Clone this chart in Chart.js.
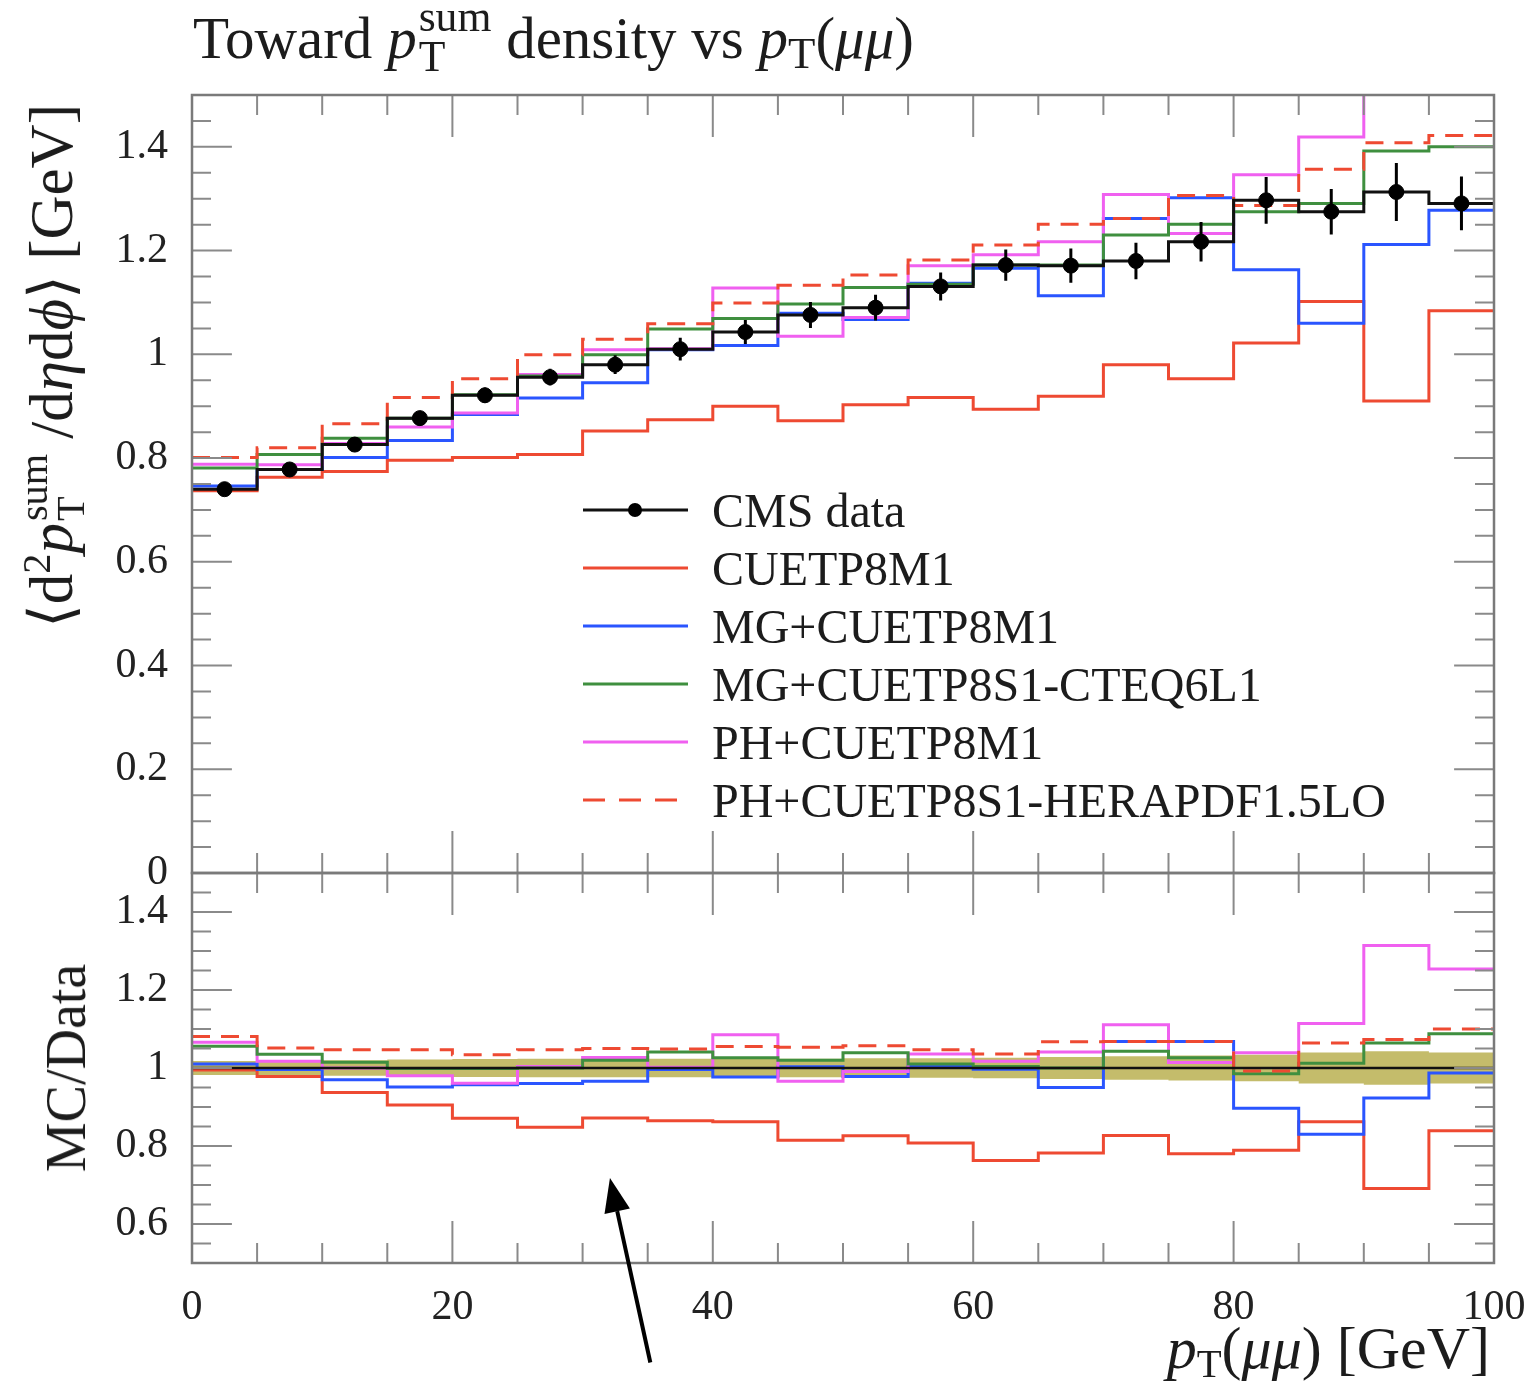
<!DOCTYPE html>
<html>
<head>
<meta charset="utf-8">
<script src="https://cdn.jsdelivr.net/npm/chart.js@4.4.1/dist/chart.umd.min.js"></script>
<style>
  body { margin: 0; background: #fff; }
  #wrap { position: relative; width: 1531px; height: 1382px; overflow: hidden;
          font-family: "Liberation Serif", "DejaVu Serif", serif; color: #1c1c1c; }
  #topChart { position: absolute; left: 0; top: 0; }
  #ratioChart { position: absolute; left: 0; top: 821px; }
  .title { position: absolute; left: 193px; top: -4px; font-size: 59px; line-height: 1; white-space: nowrap; }
  .title .ss { font-size: 0.74em; }
  .title .sub { font-size: 0.76em; }
  .ytitle { position: absolute; white-space: nowrap; line-height: 1;
            transform: translate(-50%, -50%) rotate(-90deg); }
  .xtitle { position: absolute; right: 41px; top: 1318px; font-size: 60px; line-height: 1; white-space: nowrap; }
  .ss { display: inline-block; vertical-align: -0.3em; font-size: 0.66em; line-height: 0.92; margin-left: 2px; }
  .ss span { display: block; }
  sup.sq { font-size: 0.66em; line-height: 0; vertical-align: 0.55em; }
  .sub { font-size: 0.68em; vertical-align: -0.22em; line-height: 0; }
  #legend { position: absolute; left: 583px; top: 481px; font-size: 48px; }
  #legend .row { display: flex; align-items: center; height: 58px; white-space: nowrap; }
  #legend svg { margin-right: 24px; }
</style>
</head>
<body>
<div id="wrap">
  <canvas id="topChart" width="1531" height="925"></canvas>
  <canvas id="ratioChart" width="1571" height="561"></canvas>

  <div class="title">Toward <i>p</i><span class="ss"><span>sum</span><span>T</span></span> density vs <i>p</i><span class="sub">T</span>(<i>μμ</i>)</div>
  <div class="ytitle" style="left:52px; top:366px; font-size:61px;">⟨d<sup class="sq">2</sup><i>p</i><span class="ss"><span>sum</span><span>T</span></span> /d<i>η</i>d<i>ϕ</i>⟩ [GeV]</div>
  <div class="ytitle" style="left:66px; top:1068px; font-size:56px;">MC/Data</div>
  <div class="xtitle"><i>p</i><span class="sub">T</span>(<i>μμ</i>) [GeV]</div>
  <div id="legend"></div>
</div>

<script>
// bins in pT(mumu) [GeV]
const binEdges = [0, 5, 10, 15, 20, 25, 30, 35, 40, 45, 50, 55, 60, 65, 70, 75, 80, 85, 90, 95, 100];

const xTickLabels = [0, 20, 40, 60, 80, 100];
const topTickLabels = [0, 0.2, 0.4, 0.6, 0.8, 1, 1.2, 1.4];
const ratioTickLabels = [0.6, 0.8, 1, 1.2, 1.4];

// top panel: <d2 pT sum / deta dphi> [GeV]
const cmsData = [0.740, 0.778, 0.826, 0.877, 0.921, 0.956, 0.980, 1.010, 1.043, 1.076,
                 1.090, 1.131, 1.172, 1.171, 1.180, 1.217, 1.297, 1.275, 1.313, 1.291];
const cmsErr = [0.012, 0.012, 0.013, 0.014, 0.015, 0.016, 0.018, 0.022, 0.023, 0.025,
                0.025, 0.027, 0.030, 0.033, 0.035, 0.038, 0.045, 0.044, 0.056, 0.052];
const cuetp8m1 = [0.737, 0.763, 0.774, 0.796, 0.801, 0.807, 0.852, 0.874, 0.900, 0.872,
                  0.903, 0.917, 0.894, 0.919, 0.980, 0.953, 1.022, 1.102, 0.910, 1.084];
const mgCuetp8m1 = [0.746, 0.778, 0.801, 0.834, 0.884, 0.916, 0.945, 1.009, 1.017, 1.079,
                    1.067, 1.137, 1.166, 1.113, 1.262, 1.302, 1.163, 1.060, 1.212, 1.278];
const mgCuetp8s1 = [0.781, 0.807, 0.838, 0.877, 0.922, 0.958, 0.999, 1.049, 1.069, 1.097,
                    1.129, 1.135, 1.172, 1.172, 1.230, 1.251, 1.275, 1.291, 1.392, 1.400];
const phCuetp8m1 = [0.788, 0.787, 0.828, 0.860, 0.887, 0.961, 1.009, 1.011, 1.128, 1.035,
                    1.071, 1.171, 1.192, 1.217, 1.308, 1.233, 1.346, 1.419, 1.720, 1.620];
const phHerapdf = [0.801, 0.820, 0.866, 0.917, 0.953, 0.999, 1.029, 1.059, 1.099, 1.133,
                   1.153, 1.182, 1.211, 1.251, 1.262, 1.306, 1.287, 1.357, 1.408, 1.422];

// bottom panel: MC/Data
const ratioCuetp8m1 = [0.995, 0.978, 0.937, 0.905, 0.871, 0.848, 0.872, 0.865, 0.862, 0.815,
                       0.826, 0.808, 0.763, 0.782, 0.827, 0.780, 0.789, 0.862, 0.691, 0.839];
const ratioMgCuetp8m1 = [1.010, 0.996, 0.970, 0.951, 0.957, 0.960, 0.966, 0.996, 0.977, 1.003,
                         0.978, 1.004, 0.997, 0.950, 1.068, 1.068, 0.897, 0.830, 0.923, 0.987];
const ratioMgCuetp8s1 = [1.056, 1.035, 1.015, 0.999, 0.999, 1.000, 1.020, 1.041, 1.026, 1.020,
                         1.039, 1.010, 1.004, 1.000, 1.043, 1.026, 0.985, 1.012, 1.064, 1.088];
const ratioPhCuetp8m1 = [1.066, 1.017, 1.000, 0.980, 0.961, 1.004, 1.027, 1.002, 1.085, 0.966,
                         0.991, 1.036, 1.017, 1.041, 1.111, 1.014, 1.039, 1.114, 1.314, 1.254];
const ratioPhHerapdf = [1.081, 1.051, 1.047, 1.047, 1.034, 1.047, 1.050, 1.049, 1.055, 1.053,
                        1.057, 1.047, 1.036, 1.067, 1.068, 1.068, 0.992, 1.064, 1.073, 1.100];
const ratioBandHalf = [0.018, 0.018, 0.020, 0.022, 0.023, 0.024, 0.024, 0.024, 0.024, 0.024,
                       0.025, 0.025, 0.026, 0.028, 0.030, 0.032, 0.034, 0.040, 0.043, 0.040];
const ratioReference = 1;

const seriesLabels = ['CMS data', 'CUETP8M1', 'MG+CUETP8M1', 'MG+CUETP8S1-CTEQ6L1',
                      'PH+CUETP8M1', 'PH+CUETP8S1-HERAPDF1.5LO'];
const seriesColors = ['#111111', '#ee4a32', '#2a55ff', '#3f8f3f', '#f060f0', '#ee4a32'];

// annotation arrow (data units of the ratio panel)
const arrowTail = { x: 35.2, y: 0.245 };
const arrowTip = { x: 32.1, y: 0.718 };

const fontFamily = '"Liberation Serif", "DejaVu Serif", serif';
const binCenters = binEdges.slice(0, -1).map((e, i) => (e + binEdges[i + 1]) / 2);

function stepPoints(values) {
  const pts = values.map((v, i) => ({ x: binEdges[i], y: v }));
  pts.push({ x: binEdges[binEdges.length - 1], y: values[values.length - 1] });
  return pts;
}

function histo(label, values, color, dash, order) {
  return {
    type: 'line', label: label, data: stepPoints(values),
    borderColor: color, borderWidth: 3, borderDash: dash || [],
    stepped: 'before', pointRadius: 0, fill: false, order: order
  };
}

function fmt(v) { return String(Math.round(v * 10) / 10); }

// ticks inside the frame on all four sides + frame
const frameTicks = {
  id: 'frameTicks',
  afterDatasetsDraw(chart, args, o) {
    const ctx = chart.ctx, a = chart.chartArea;
    const xs = chart.scales.x, ys = chart.scales.y;
    const walk = (scale, minor, major, fn) => {
      const n = Math.round((scale.max - scale.min) / minor);
      for (let k = 1; k < n; k++) {
        const v = scale.min + k * minor;
        const isMajor = Math.abs(v / major - Math.round(v / major)) < 1e-6;
        fn(scale.getPixelForValue(v), isMajor ? 42 : 20);
      }
    };
    ctx.save();
    ctx.setLineDash([]);
    // data reference line of the ratio panel
    if (o.refLine !== undefined) {
      const py = ys.getPixelForValue(o.refLine);
      ctx.strokeStyle = '#111';
      ctx.lineWidth = 2.5;
      ctx.beginPath(); ctx.moveTo(a.left, py); ctx.lineTo(a.right, py); ctx.stroke();
    }
    ctx.strokeStyle = '#8a8a8a';
    ctx.lineWidth = 2;
    ctx.beginPath();
    walk(xs, o.xMinor, o.xMajor, (px, len) => {
      ctx.moveTo(px, a.top); ctx.lineTo(px, a.top + len);
      ctx.moveTo(px, a.bottom); ctx.lineTo(px, a.bottom - len);
    });
    walk(ys, o.yMinor, o.yMajor, (py, len) => {
      ctx.moveTo(a.left, py); ctx.lineTo(a.left + len * 0.95, py);
      ctx.moveTo(a.right, py); ctx.lineTo(a.right - len * 0.95, py);
    });
    ctx.stroke();
    ctx.strokeStyle = '#7a7a7a';
    ctx.lineWidth = 2.5;
    ctx.strokeRect(a.left, a.top, a.right - a.left, a.bottom - a.top);
    ctx.restore();
  }
};

// vertical error bars on the data points
const errorBars = {
  id: 'errorBars',
  afterDatasetsDraw(chart, args, o) {
    if (!o.values) return;
    const ctx = chart.ctx, xs = chart.scales.x, ys = chart.scales.y;
    ctx.save();
    ctx.strokeStyle = '#000';
    ctx.lineWidth = 3;
    ctx.beginPath();
    o.values.forEach((v, i) => {
      const px = xs.getPixelForValue(binCenters[i]);
      ctx.moveTo(px, ys.getPixelForValue(v - o.errors[i]));
      ctx.lineTo(px, ys.getPixelForValue(v + o.errors[i]));
    });
    ctx.stroke();
    ctx.restore();
  }
};

const arrowNote = {
  id: 'arrowNote',
  afterDraw(chart, args, o) {
    if (!o.from) return;
    const ctx = chart.ctx, xs = chart.scales.x, ys = chart.scales.y;
    const x0 = xs.getPixelForValue(o.from.x), y0 = ys.getPixelForValue(o.from.y);
    const x1 = xs.getPixelForValue(o.to.x), y1 = ys.getPixelForValue(o.to.y);
    const ang = Math.atan2(y1 - y0, x1 - x0);
    const headLen = 34, headW = 13;
    const bx = x1 - headLen * Math.cos(ang), by = y1 - headLen * Math.sin(ang);
    ctx.save();
    ctx.strokeStyle = '#000';
    ctx.fillStyle = '#000';
    ctx.lineWidth = 4;
    ctx.beginPath(); ctx.moveTo(x0, y0); ctx.lineTo(bx, by); ctx.stroke();
    ctx.beginPath();
    ctx.moveTo(x1, y1);
    ctx.lineTo(bx + headW * Math.sin(ang), by - headW * Math.cos(ang));
    ctx.lineTo(bx - headW * Math.sin(ang), by + headW * Math.cos(ang));
    ctx.closePath(); ctx.fill();
    ctx.restore();
  }
};

const tickFont = { family: fontFamily, size: 42 };

// top panel
new Chart(document.getElementById('topChart'), {
  type: 'line',
  data: {
    datasets: [
      {
        type: 'line', label: seriesLabels[0],
        data: binCenters.map((c, i) => ({ x: c, y: cmsData[i] })),
        showLine: false, pointRadius: 7.5, pointBackgroundColor: '#000',
        pointBorderColor: '#000', order: 0
      },
      histo('data line', cmsData, seriesColors[0], null, 1),
      histo(seriesLabels[1], cuetp8m1, seriesColors[1], null, 6),
      histo(seriesLabels[2], mgCuetp8m1, seriesColors[2], null, 5),
      histo(seriesLabels[3], mgCuetp8s1, seriesColors[3], null, 3),
      histo(seriesLabels[4], phCuetp8m1, seriesColors[4], null, 4),
      histo(seriesLabels[5], phHerapdf, seriesColors[5], [18, 11], 2)
    ]
  },
  options: {
    responsive: false,
    animation: false,
    layout: { padding: { top: 95, right: 37, bottom: 52, left: 0 } },
    scales: {
      x: { type: 'linear', min: 0, max: 100, display: false },
      y: {
        type: 'linear', min: 0, max: 1.5,
        afterBuildTicks: (s) => { s.ticks = topTickLabels.map(v => ({ value: v })); },
        afterFit: (s) => { s.width = 192; },
        grid: { display: false, drawTicks: false },
        border: { display: false },
        ticks: { font: tickFont, color: '#222', padding: 24, callback: fmt }
      }
    },
    plugins: {
      legend: { display: false },
      tooltip: { enabled: false },
      frameTicks: { xMinor: 5, xMajor: 20, yMinor: 0.05, yMajor: 0.2 },
      errorBars: { values: cmsData, errors: cmsErr }
    }
  },
  plugins: [frameTicks, errorBars]
});

// ratio panel
new Chart(document.getElementById('ratioChart'), {
  type: 'line',
  data: {
    datasets: [
      {
        type: 'line', label: 'band low', data: stepPoints(ratioBandHalf.map(e => ratioReference - e)),
        stepped: 'before', borderWidth: 1, borderColor: 'rgba(0,0,0,0)', pointRadius: 0, fill: false, order: 10
      },
      {
        type: 'line', label: 'band high', data: stepPoints(ratioBandHalf.map(e => ratioReference + e)),
        stepped: 'before', borderWidth: 1, borderColor: 'rgba(0,0,0,0)', pointRadius: 0, order: 9,
        fill: '-1', backgroundColor: 'rgba(176, 166, 58, 0.75)'
      },
      histo(seriesLabels[1], ratioCuetp8m1, seriesColors[1], null, 6),
      histo(seriesLabels[2], ratioMgCuetp8m1, seriesColors[2], null, 5),
      histo(seriesLabels[3], ratioMgCuetp8s1, seriesColors[3], null, 3),
      histo(seriesLabels[4], ratioPhCuetp8m1, seriesColors[4], null, 4),
      histo(seriesLabels[5], ratioPhHerapdf, seriesColors[5], [18, 11], 2)
    ]
  },
  options: {
    responsive: false,
    animation: false,
    layout: { padding: { top: 52, right: 77, bottom: 0, left: 0 } },
    scales: {
      x: {
        type: 'linear', min: 0, max: 100,
        afterBuildTicks: (s) => { s.ticks = xTickLabels.map(v => ({ value: v })); },
        afterFit: (s) => { s.height = 119; },
        grid: { display: false, drawTicks: false },
        border: { display: false },
        ticks: { font: tickFont, color: '#222', padding: 20, maxRotation: 0, callback: fmt }
      },
      y: {
        type: 'linear', min: 0.5, max: 1.5,
        afterBuildTicks: (s) => { s.ticks = ratioTickLabels.map(v => ({ value: v })); },
        afterFit: (s) => { s.width = 192; },
        grid: { display: false, drawTicks: false },
        border: { display: false },
        ticks: { font: tickFont, color: '#222', padding: 24, callback: fmt }
      }
    },
    plugins: {
      legend: { display: false },
      tooltip: { enabled: false },
      frameTicks: { xMinor: 5, xMajor: 20, yMinor: 0.05, yMajor: 0.2, refLine: ratioReference },
      arrowNote: { from: arrowTail, to: arrowTip }
    }
  },
  plugins: [frameTicks, arrowNote]
});

// legend inside the top panel
const legendBox = document.getElementById('legend');
seriesLabels.forEach((lab, i) => {
  const row = document.createElement('div');
  row.className = 'row';
  const dash = i === 5 ? ' stroke-dasharray="22 14"' : '';
  const dot = i === 0 ? '<circle cx="52" cy="10" r="7" fill="#000"/>' : '';
  row.innerHTML = '<svg width="105" height="20"><line x1="0" y1="10" x2="105" y2="10" stroke="' +
    seriesColors[i] + '" stroke-width="3"' + dash + '/>' + dot + '</svg><span>' + lab + '</span>';
  legendBox.appendChild(row);
});
</script>
</body>
</html>
